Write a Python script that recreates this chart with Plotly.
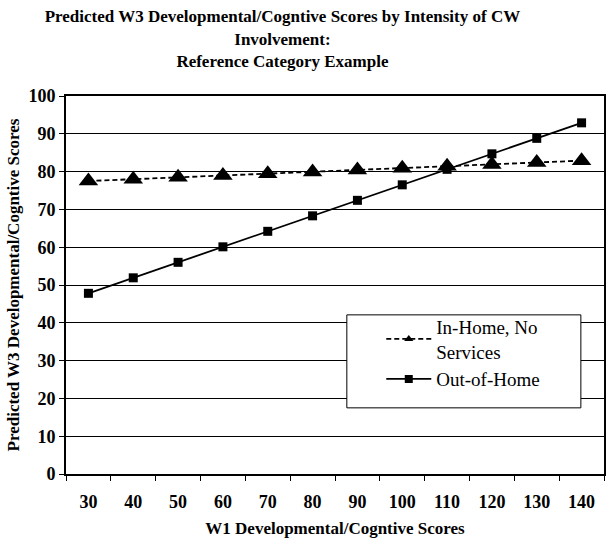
import plotly.graph_objects as go

w1_scores = ['30', '40', '50', '60', '70', '80', '90', '100', '110', '120', '130', '140']
in_home = [77.5, 78.0, 78.5, 79.0, 79.4, 79.9, 80.4, 80.9, 81.4, 81.9, 82.4, 82.9]
out_of_home = [47.8, 51.9, 56.0, 60.1, 64.2, 68.3, 72.4, 76.5, 80.6, 84.7, 88.8, 92.9]

serif = 'Liberation Serif, Times New Roman, serif'

series = [
    ('In-Home, No<br>Services', in_home, '5px,3px', 'triangle-up', 17, 8),
    ('Out-of-Home', out_of_home, 'solid', 'square', 9, 8),
]

fig = go.Figure()
for name, vals, dash, sym, size, leg_size in series:
    fig.add_trace(go.Scatter(
        x=w1_scores, y=vals, mode='lines+markers', name=name, showlegend=False,
        line=dict(color='black', width=1.8, dash=dash),
        marker=dict(symbol=sym, size=size, color='black'),
    ))
    # legend-only entry, the original draws smaller markers in the key
    fig.add_trace(go.Scatter(
        x=[None], y=[None], mode='lines+markers', name=name,
        line=dict(color='black', width=1.8, dash=dash),
        marker=dict(symbol=sym, size=leg_size, color='black'),
    ))

# legend frame drawn as a shape so the entries can sit inset like the original
fig.add_shape(
    type='rect', xref='paper', yref='paper',
    x0=0.522, x1=0.957, y0=0.175, y1=0.421,
    line=dict(color='black', width=1), fillcolor='white', layer='above',
)

fig.update_layout(
    width=614, height=547,
    margin=dict(l=66, r=8, t=96, b=73),
    paper_bgcolor='white', plot_bgcolor='white',
    font=dict(family=serif, color='black'),
    title=dict(
        text='<b>Predicted W3 Developmental/Cogntive Scores by Intensity of CW<br>Involvement:<br>Reference Category Example</b>',
        x=0.46, xref='container', xanchor='center',
        y=0.959, yref='container', yanchor='top',
        font=dict(size=17, family=serif),
    ),
    legend=dict(
        x=0.586, y=0.44, xanchor='left', yanchor='top',
        borderwidth=0, bgcolor='rgba(0,0,0,0)',
        font=dict(size=19, family=serif), itemwidth=45,
        tracegroupgap=0,
    ),
    showlegend=True,
)

fig.update_xaxes(
    type='category', tickson='boundaries', range=[-0.5, 11.5],
    ticks='outside', ticklen=5, tickcolor='black',
    showline=True, linecolor='black', linewidth=2, mirror=True,
    showgrid=False, ticklabelstandoff=10,
    tickfont=dict(size=18, family=serif),
    title=dict(text='<b>W1 Developmental/Cogntive Scores</b>', font=dict(size=17, family=serif), standoff=12),
    tickprefix='<b>', ticksuffix='</b>',
)
fig.update_yaxes(
    range=[0, 100], dtick=10,
    ticks='outside', ticklen=5, tickcolor='black',
    showline=True, linecolor='black', linewidth=2, mirror=True,
    showgrid=True, gridcolor='black', gridwidth=1,
    tickfont=dict(size=18, family=serif),
    tickprefix='<b>', ticksuffix='</b>',
    title=dict(text='<b>Predicted W3 Developmental/Cogntive Scores</b>', font=dict(size=17, family=serif), standoff=4),
)

fig.write_html('out.html', config={'displayModeBar': False},
               post_script="document.body.style.margin='0';")
